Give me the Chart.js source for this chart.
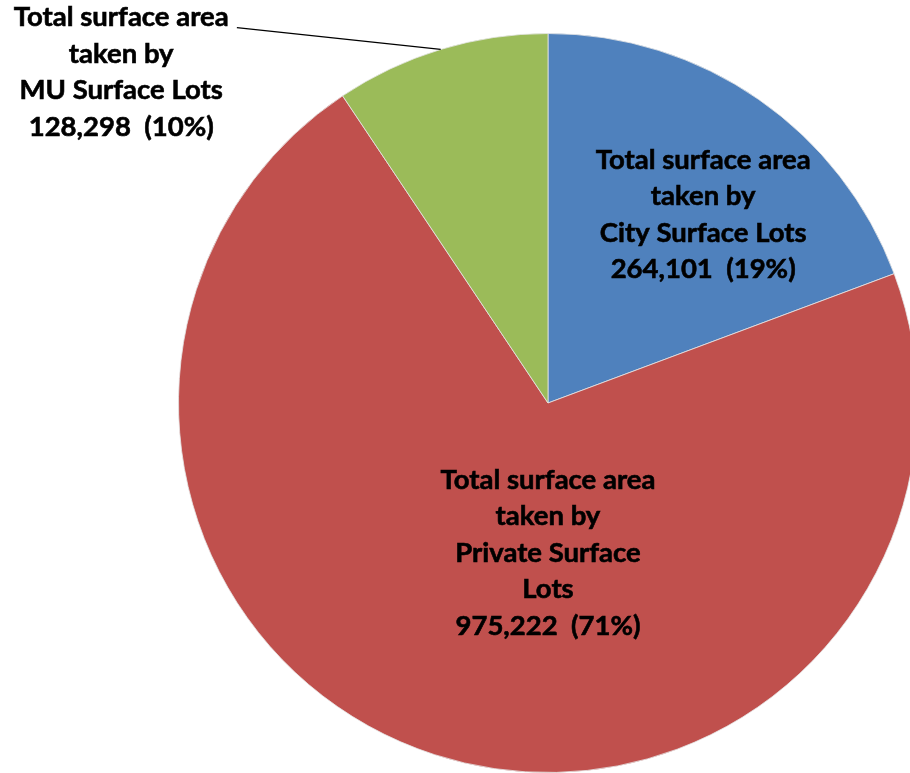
<!DOCTYPE html>
<html>
<head>
<meta charset="utf-8">
<script src="https://cdn.jsdelivr.net/npm/chart.js@4.4.1/dist/chart.umd.min.js"></script>
<style>
  html, body { margin: 0; padding: 0; background: #fff; overflow: hidden; }
  #pieChart { position: absolute; left: 0; top: 0; }
</style>
</head>
<body>
<canvas id="pieChart" width="940" height="773"></canvas>
<script>
// Surface lot areas, in the order drawn clockwise from 12 o'clock
const lotNames = ["City Surface Lots", "Private Surface Lots", "MU Surface Lots"];
const lotAreas = [264101, 975222, 128298];
const lotShares = [19, 71, 10];
const lotColors = ["#4F81BD", "#C0504D", "#9BBB59"];

// Label text per slice (line breaks as shown on the chart)
const lotLabelLines = [
  ["Total surface area", "taken by", "City Surface Lots"],
  ["Total surface area", "taken by", "Private Surface", "Lots"],
  ["Total surface area", "taken by", "MU Surface Lots"]
];
// Label centre relative to pie centre, as a fraction of the radius
const labelOffsets = [[0.42, -0.51], [0, 0.405], [-1.155, -0.895]];

const fmt = n => n.toLocaleString("en-US");

const sliceLabels = {
  id: "sliceLabels",
  afterDatasetsDraw(chart) {
    const ctx = chart.ctx;
    const arcs = chart.getDatasetMeta(0).data;
    ctx.save();
    ctx.font = "bold 27.5px Lato";
    ctx.fillStyle = "#000";
    ctx.strokeStyle = "#000";
    ctx.lineWidth = 0.6;
    ctx.textAlign = "center";
    ctx.textBaseline = "middle";
    const lh = 36.5;
    arcs.forEach((arc, i) => {
      const r = arc.outerRadius;
      const cx = arc.x + labelOffsets[i][0] * r;
      const cy = arc.y + labelOffsets[i][1] * r;
      const lines = lotLabelLines[i].concat([fmt(lotAreas[i]) + "  (" + lotShares[i] + "%)"]);
      const y0 = cy - (lines.length - 1) * lh / 2;
      lines.forEach((t, k) => {
        ctx.fillText(t, cx, y0 + k * lh);
        ctx.strokeText(t, cx, y0 + k * lh);
      });
    });

    // leader line from the MU label to the middle of its slice
    const mu = arcs[2];
    const mid = (mu.startAngle + mu.endAngle) / 2;
    ctx.lineWidth = 1.3;
    ctx.beginPath();
    ctx.moveTo(mu.x - 0.842 * mu.outerRadius, mu.y - 1.016 * mu.outerRadius);
    ctx.lineTo(mu.x + Math.cos(mid) * mu.outerRadius, mu.y + Math.sin(mid) * mu.outerRadius);
    ctx.stroke();
    ctx.restore();
  }
};

new Chart(document.getElementById("pieChart"), {
  type: "pie",
  data: {
    labels: lotNames,
    datasets: [{
      data: lotAreas,
      backgroundColor: lotColors,
      borderColor: "rgba(230,230,230,0.8)",
      borderWidth: 1
    }]
  },
  options: {
    responsive: false,
    animation: false,
    layout: { padding: { left: 178, top: 33, right: 22, bottom: 0 } },
    plugins: {
      legend: { display: false },
      tooltip: { enabled: false }
    }
  },
  plugins: [sliceLabels]
});
</script>
</body>
</html>
